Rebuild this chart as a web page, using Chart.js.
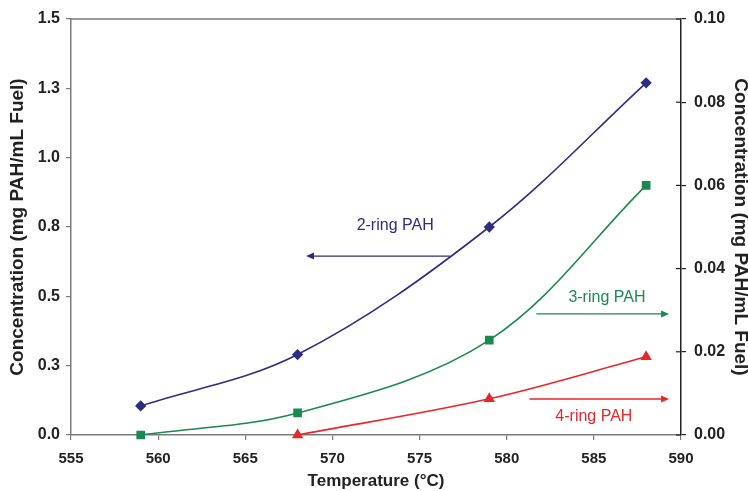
<!DOCTYPE html>
<html>
<head>
<meta charset="utf-8">
<script src="https://cdn.jsdelivr.net/npm/chart.js@4/dist/chart.umd.min.js"></script>
<style>
  html,body{margin:0;padding:0;background:#fff;}
  #wrap{width:748px;height:491px;position:relative;}
</style>
</head>
<body>
<div id="wrap"><canvas id="c" width="748" height="491"></canvas></div>
<script>
// ---- data ----
const temperatures = [559, 568, 579, 588];
const ring2 = [0.105, 0.29, 0.75, 1.27];      // left axis
const ring3 = [0.0, 0.0053, 0.0228, 0.060];   // right axis
const ring4 = [null, 0.0, 0.0087, 0.0188];    // right axis
const xTicks = [555, 560, 565, 570, 575, 580, 585, 590];
const leftTicks = [0, 0.25, 0.5, 0.75, 1.0, 1.25, 1.5];
const leftTickLabels = ['0.0', '0.3', '0.5', '0.8', '1.0', '1.3', '1.5'];
const rightTicks = [0, 0.02, 0.04, 0.06, 0.08, 0.10];
const rightTickLabels = ['0.00', '0.02', '0.04', '0.06', '0.08', '0.10'];
const seriesNames = ['2-ring PAH', '3-ring PAH', '4-ring PAH'];

const C2 = '#2f2d80', C3 = '#1b8a50', C4 = '#e8262b';
const FONT = '"Liberation Sans", Arial, sans-serif';

function pts(arr) {
  return temperatures.map((t, i) => ({x: t, y: arr[i]})).filter(p => p.y !== null);
}

const annotations = [
  {text: seriesNames[0], color: C2, axis: 'y', tx: 573.6, ty: 0.755, x1: 576.75, x2: 568.6, ay: 0.645},
  {text: seriesNames[1], color: C3, axis: 'y1', tx: 585.75, ty: 0.0330, x1: 581.7, x2: 589.2, ay: 0.0291},
  {text: seriesNames[2], color: C4, axis: 'y1', tx: 585.0, ty: 0.0044, x1: 581.3, x2: 589.2, ay: 0.00865}
];

const decor = {
  id: 'decor',
  afterDatasetsDraw(chart) {
    const ctx = chart.ctx, a = chart.chartArea, xs = chart.scales.x;
    ctx.save();
    // top frame line
    ctx.strokeStyle = '#7a7a7a';
    ctx.lineWidth = 1.5;
    ctx.beginPath(); ctx.moveTo(a.left, a.top); ctx.lineTo(a.right, a.top); ctx.stroke();
    // right axis crossing ticks
    ctx.strokeStyle = '#222';
    ctx.lineWidth = 1.2;
    const r = chart.scales.y1;
    rightTicks.forEach(v => {
      const y = r.getPixelForValue(v);
      ctx.beginPath(); ctx.moveTo(a.right - 5, y); ctx.lineTo(a.right, y); ctx.stroke();
    });
    // annotations
    annotations.forEach(an => {
      const ys = chart.scales[an.axis];
      const px1 = xs.getPixelForValue(an.x1), px2 = xs.getPixelForValue(an.x2);
      const py = ys.getPixelForValue(an.ay);
      ctx.strokeStyle = an.color; ctx.fillStyle = an.color; ctx.lineWidth = 1.3;
      ctx.beginPath(); ctx.moveTo(px1, py); ctx.lineTo(px2, py); ctx.stroke();
      const dir = px2 > px1 ? 1 : -1;
      ctx.beginPath();
      ctx.moveTo(px2 + dir * 2, py);
      ctx.lineTo(px2 - dir * 6, py - 3.5);
      ctx.lineTo(px2 - dir * 6, py + 3.5);
      ctx.closePath(); ctx.fill();
      ctx.font = '16px ' + FONT;
      ctx.textAlign = 'center'; ctx.textBaseline = 'middle';
      ctx.fillText(an.text, xs.getPixelForValue(an.tx), ys.getPixelForValue(an.ty));
    });
    ctx.restore();
  }
};

const xTickFont = {family: FONT, size: 15, weight: 'bold'};
const yTickFont = {family: FONT, size: 16, weight: 'bold'};
const xTitleFont = {family: FONT, size: 17, weight: 'bold'};
const yTitleFont = {family: FONT, size: 19, weight: 'bold'};

new Chart(document.getElementById('c'), {
  type: 'line',
  data: {
    datasets: [
      {label: seriesNames[0], data: pts(ring2), yAxisID: 'y', borderColor: C2, backgroundColor: C2,
       pointStyle: 'rectRot', pointRadius: 4.5, borderWidth: 1.6, tension: 0.35},
      {label: seriesNames[1], data: pts(ring3), yAxisID: 'y1', borderColor: C3, backgroundColor: C3,
       pointStyle: 'rect', pointRadius: 5, borderWidth: 1.6, tension: 0.35},
      {label: seriesNames[2], data: pts(ring4), yAxisID: 'y1', borderColor: C4, backgroundColor: C4,
       pointStyle: 'triangle', pointRadius: 5, borderWidth: 1.6, tension: 0.35}
    ]
  },
  options: {
    responsive: false,
    animation: false,
    clip: false,
    layout: {padding: {top: 19, left: 0, right: 0, bottom: 0}},
    plugins: {legend: {display: false}, tooltip: {enabled: false}},
    scales: {
      x: {
        type: 'linear', min: 555, max: 590,
        afterBuildTicks: s => { s.ticks = xTicks.map(v => ({value: v})); },
        afterFit: s => { s.height = 56; },
        grid: {drawOnChartArea: false, drawTicks: true, tickLength: 5, color: '#7a7a7a', lineWidth: 1.2},
        border: {display: true, color: '#7a7a7a', width: 1.5},
        ticks: {font: xTickFont, color: '#222', padding: 10, maxRotation: 0},
        title: {display: true, text: 'Temperature (°C)', font: xTitleFont, color: '#222', padding: {top: 0, bottom: -1}}
      },
      y: {
        type: 'linear', position: 'left', min: 0, max: 1.5,
        afterBuildTicks: s => { s.ticks = leftTicks.map(v => ({value: v})); },
        afterFit: s => { s.width = 71; },
        grid: {drawOnChartArea: false, drawTicks: true, tickLength: 5, color: '#7a7a7a', lineWidth: 1.2},
        border: {display: true, color: '#7a7a7a', width: 1.5},
        ticks: {font: yTickFont, color: '#222', padding: 6,
                callback: (v) => leftTickLabels[leftTicks.indexOf(v)]},
        title: {display: true, text: 'Concentration (mg PAH/mL Fuel)', font: yTitleFont, color: '#222', padding: {top: 6, bottom: 0}}
      },
      y1: {
        type: 'linear', position: 'right', min: 0, max: 0.10,
        afterBuildTicks: s => { s.ticks = rightTicks.map(v => ({value: v})); },
        afterFit: s => { s.width = 67; },
        grid: {drawOnChartArea: false, drawTicks: true, tickLength: 5, color: '#222', lineWidth: 1.2},
        border: {display: true, color: '#222', width: 1.5},
        ticks: {font: yTickFont, color: '#222', padding: 8,
                callback: (v) => rightTickLabels[rightTicks.findIndex(t => Math.abs(t - v) < 1e-9)]},
        title: {display: true, text: 'Concentration (mg PAH/mL Fuel)', font: yTitleFont, color: '#222', padding: {top: -4, bottom: 0}}
      }
    }
  },
  plugins: [decor]
});
</script>
</body>
</html>
